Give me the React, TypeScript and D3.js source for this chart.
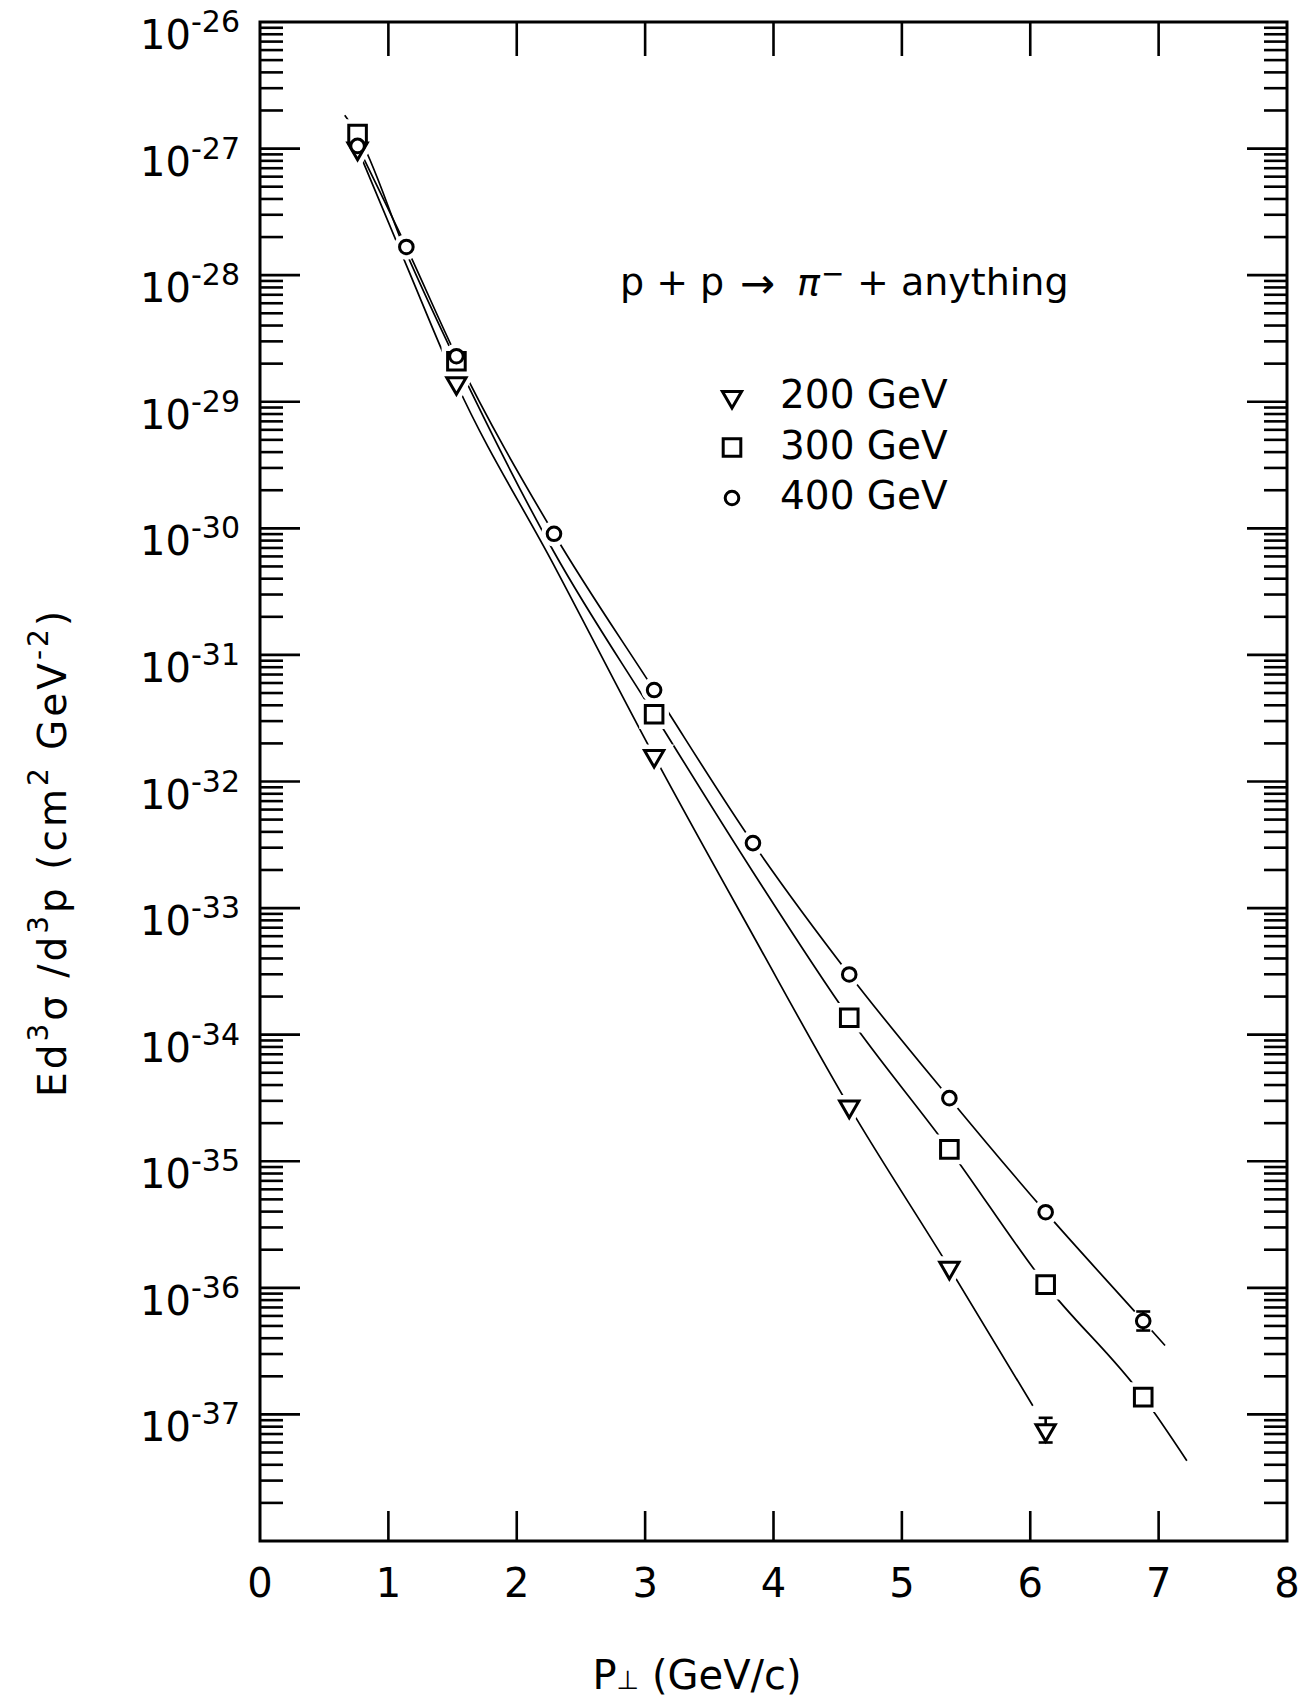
import React from "react";
import * as d3 from "d3";

const W = 1305;
const H = 1703;
const frame = { left: 260, right: 1287, top: 22, bottom: 1541 };
const FONT = "DejaVu Sans";

// axis ticks
const xTicks = [0, 1, 2, 3, 4, 5, 6, 7, 8];
const yDecades = [-26, -27, -28, -29, -30, -31, -32, -33, -34, -35, -36, -37];
const minorSteps = [2, 3, 4, 5, 6, 7, 8, 9];

// measured points, p+p -> pi- + anything
const pt200 = [0.76, 1.53, 3.07, 4.59, 5.37, 6.12];
const sig200 = [1.0e-27, 1.4e-29, 1.59e-32, 2.7e-35, 1.44e-36, 7.5e-38];
const pt300 = [0.76, 1.53, 3.07, 4.59, 5.37, 6.12, 6.88];
const sig300 = [1.3e-27, 2.09e-29, 3.4e-32, 1.36e-34, 1.24e-35, 1.06e-36, 1.37e-37];
const pt400 = [0.76, 1.14, 1.53, 2.29, 3.07, 3.84, 4.59, 5.37, 6.12, 6.88];
const sig400 = [1.05e-27, 1.67e-28, 2.29e-29, 9.06e-31, 5.28e-32, 3.26e-33, 2.99e-34, 3.15e-35, 3.96e-36, 5.47e-37];

// error bars (only the last points have visible ones)
const errBars = [
  { pt: 6.12, lo: 6.0e-38, hi: 9.4e-38 },
  { pt: 6.88, lo: 4.6e-37, hi: 6.5e-37 },
];

// hand drawn curves
const fit200: [number, number][] = [
  [0.76, 1.0e-27], [1.14, 1.2e-28], [1.53, 1.4e-29], [2.29, 5.1e-31], [3.07, 1.59e-32],
  [3.84, 6.1e-34], [4.59, 2.7e-35], [5.37, 1.44e-36], [6.02, 1.17e-37],
];
const fit300: [number, number][] = [
  [0.66, 1.83e-27], [0.76, 1.3e-27], [1.14, 1.5e-28], [1.53, 2.09e-29], [2.29, 6.5e-31],
  [3.07, 3.4e-32], [3.84, 1.93e-33], [4.59, 1.36e-34], [5.37, 1.24e-35], [6.12, 1.06e-36],
  [6.88, 1.37e-37], [7.22, 4.3e-38],
];
const fit400: [number, number][] = [
  [0.76, 1.05e-27], [1.14, 1.67e-28], [1.53, 2.29e-29], [2.29, 9.06e-31], [3.07, 5.28e-32],
  [3.84, 3.26e-33], [4.59, 2.99e-34], [5.37, 3.15e-35], [6.12, 3.96e-36], [6.88, 5.47e-37],
  [7.05, 3.5e-37],
];

const legendLabels = ["200 GeV", "300 GeV", "400 GeV"];
const legendKinds = ["tri", "sq", "circ"];

const x = d3.scaleLinear().domain([0, 8]).range([frame.left, frame.right]);
const y = d3.scaleLog().domain([1e-38, 1e-26]).range([frame.bottom, frame.top]);

const curve = d3.line<[number, number]>()
  .x(d => x(d[0]))
  .y(d => y(d[1]))
  .curve(d3.curveMonotoneX);

const triPath = d3.symbol(d3.symbolTriangle, 160)() as string;
const sqPath = d3.symbol(d3.symbolSquare, 310)() as string;

function Marker({ kind, cx, cy, halo }: { kind: string; cx: number; cy: number; halo?: boolean }) {
  const st = halo
    ? { fill: "#fff", stroke: "#fff", strokeWidth: 12 }
    : { fill: "#fff", stroke: "#000", strokeWidth: 3 };
  if (kind === "circ") return <circle cx={cx} cy={cy} r={6.8} {...st} />;
  if (kind === "sq") return <path d={sqPath} transform={`translate(${cx},${cy})`} {...st} />;
  return <path d={triPath} transform={`translate(${cx},${cy}) rotate(180)`} {...st} />;
}

export default function App() {
  const minorVals: number[] = [];
  yDecades.concat([-38]).forEach(e => {
    if (e === -26) return;
    minorSteps.forEach(k => minorVals.push(k * Math.pow(10, e)));
  });

  const points = [
    ...pt200.map((p, i) => ({ kind: "tri", p, v: sig200[i] })),
    ...pt300.map((p, i) => ({ kind: "sq", p, v: sig300[i] })),
    ...pt400.map((p, i) => ({ kind: "circ", p, v: sig400[i] })),
  ];

  return (
    <svg width={W} height={H} style={{ position: "absolute", left: 0, top: 0, background: "#fff" }}
      fontFamily={FONT}>
      <rect x={0} y={0} width={W} height={H} fill="#fff" />

      {/* curves */}
      {[fit200, fit300, fit400].map((f, i) => (
        <path key={i} d={curve(f) || ""} fill="none" stroke="#000" strokeWidth={1.7} />
      ))}

      {/* gaps around markers */}
      {points.map((d, i) => (
        <Marker key={"h" + i} kind={d.kind} cx={x(d.p)} cy={y(d.v)} halo />
      ))}

      {/* error bars */}
      {errBars.map((e, i) => (
        <g key={"e" + i} stroke="#000" strokeWidth={2.6}>
          <line x1={x(e.pt)} x2={x(e.pt)} y1={y(e.lo)} y2={y(e.hi)} />
          <line x1={x(e.pt) - 7} x2={x(e.pt) + 7} y1={y(e.lo)} y2={y(e.lo)} />
          <line x1={x(e.pt) - 7} x2={x(e.pt) + 7} y1={y(e.hi)} y2={y(e.hi)} />
        </g>
      ))}

      {points.map((d, i) => (
        <Marker key={"m" + i} kind={d.kind} cx={x(d.p)} cy={y(d.v)} />
      ))}

      {/* frame */}
      <rect x={frame.left} y={frame.top} width={frame.right - frame.left} height={frame.bottom - frame.top}
        fill="none" stroke="#000" strokeWidth={3} />

      {/* y ticks, both sides, inward */}
      <g stroke="#000" strokeWidth={2.6}>
        {yDecades.slice(1).map(e => (
          <g key={"M" + e}>
            <line x1={frame.left} x2={frame.left + 40} y1={y(Math.pow(10, e))} y2={y(Math.pow(10, e))} />
            <line x1={frame.right} x2={frame.right - 40} y1={y(Math.pow(10, e))} y2={y(Math.pow(10, e))} />
          </g>
        ))}
        {minorVals.map((v, i) => (
          <g key={"m" + i}>
            <line x1={frame.left} x2={frame.left + 23} y1={y(v)} y2={y(v)} />
            <line x1={frame.right} x2={frame.right - 23} y1={y(v)} y2={y(v)} />
          </g>
        ))}
        {xTicks.slice(1, -1).map(t => (
          <g key={"x" + t}>
            <line x1={x(t)} x2={x(t)} y1={frame.top} y2={frame.top + 34} />
            <line x1={x(t)} x2={x(t)} y1={frame.bottom} y2={frame.bottom - 30} />
          </g>
        ))}
      </g>

      {/* y tick labels */}
      {yDecades.map(e => (
        <text key={"yl" + e} x={240} y={y(Math.pow(10, e)) + 27} textAnchor="end" fontSize={40}>
          10<tspan dy={-17} fontSize={30}>{String(e)}</tspan>
        </text>
      ))}

      {/* x tick labels */}
      {xTicks.map(t => (
        <text key={"xl" + t} x={x(t)} y={1597} textAnchor="middle" fontSize={40}>{t}</text>
      ))}

      {/* axis titles */}
      <text x={697} y={1689} textAnchor="middle" fontSize={40}>
        P<tspan fontSize={26}>⊥</tspan> (GeV/c)
      </text>
      <text transform="translate(66,1097) rotate(-90)" fontSize={39} letterSpacing={3}>
        Ed<tspan dy={-18} fontSize={28}>3</tspan><tspan dy={18}>σ /d</tspan>
        <tspan dy={-18} fontSize={28}>3</tspan><tspan dy={18}>p   (cm</tspan>
        <tspan dy={-18} fontSize={28}>2</tspan><tspan dy={18}> GeV</tspan>
        <tspan dy={-18} fontSize={28}>-2</tspan><tspan dy={18}>)</tspan>
      </text>

      {/* reaction label */}
      <text x={620} y={295} fontSize={38}>p + p</text>
      <text x={740} y={298} fontSize={42}>→</text>
      <text x={797} y={295} fontSize={38} fontStyle="italic">π</text>
      <text x={821} y={283} fontSize={28}>−</text>
      <text x={857} y={295} fontSize={38}>+ anything</text>

      {/* legend */}
      {legendLabels.map((lab, i) => (
        <g key={lab}>
          <Marker kind={legendKinds[i]} cx={732} cy={397 + i * 50.5} />
          <text x={780} y={408 + i * 50.5} fontSize={39}>{lab}</text>
        </g>
      ))}
    </svg>
  );
}
